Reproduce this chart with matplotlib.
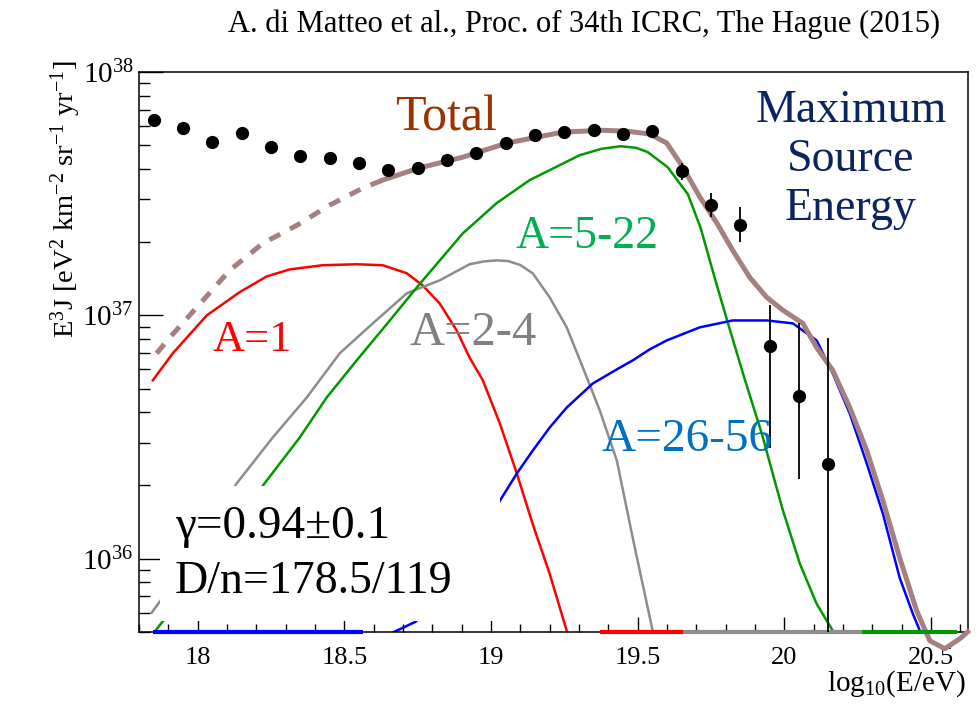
import numpy as np
import matplotlib
matplotlib.use("Agg")
import matplotlib.pyplot as plt
from matplotlib.patches import Rectangle
from matplotlib.ticker import LogLocator, NullFormatter, MultipleLocator

plt.rcParams['font.family'] = ['Liberation Serif', 'DejaVu Serif']
plt.rcParams['mathtext.fontset'] = 'custom'
plt.rcParams['mathtext.rm'] = 'Liberation Serif'
plt.rcParams['mathtext.it'] = 'Liberation Serif:italic'

UNIT = 1e37  # all flux values below are in units of 1e37

# measured spectrum (E^3 J)
data_x = [17.85, 17.95, 18.05, 18.15, 18.25, 18.35, 18.45, 18.55, 18.65, 18.75,
          18.85, 18.95, 19.05, 19.15, 19.25, 19.35, 19.45, 19.55, 19.65, 19.75,
          19.85, 19.95, 20.05, 20.15]
data_y = [6.34, 5.89, 5.15, 5.61, 4.91, 4.51, 4.43, 4.22, 3.96, 4.03,
          4.35, 4.64, 5.10, 5.50, 5.66, 5.77, 5.56, 5.71, 3.92, 2.84,
          2.35, 0.745, 0.468, 0.246]
data_hi = [6.34, 5.89, 5.15, 5.61, 4.91, 4.51, 4.43, 4.22, 3.96, 4.03,
           4.35, 4.64, 5.10, 5.50, 5.66, 5.77, 5.56, 5.71, 4.24, 3.18,
           2.79, 1.10, 0.93, 0.81]
data_lo = [6.34, 5.89, 5.15, 5.61, 4.91, 4.51, 4.43, 4.22, 3.96, 4.03,
           4.35, 4.64, 5.10, 5.50, 5.66, 5.77, 5.56, 5.71, 3.60, 2.54,
           2.00, 0.284, 0.213, 0.001]

# total model (dashed below the fit range)
total_x = [17.860, 17.905, 17.997, 18.109, 18.222, 18.338, 18.450, 18.563, 18.631,
           18.753, 18.904, 19.054, 19.245, 19.380, 19.463, 19.541, 19.599, 19.654, 19.712,
           19.770, 19.824, 19.882, 19.940, 19.995, 20.063, 20.110, 20.165, 20.223,
           20.281, 20.336, 20.393, 20.451, 20.496, 20.547, 20.598, 20.625]
total_y = [0.698, 0.811, 1.079, 1.531, 1.977, 2.344, 2.838, 3.334, 3.597,
           4.027, 4.467, 5.105, 5.662, 5.76, 5.715, 5.560, 5.105, 4.064, 3.062,
           2.393, 1.849, 1.432, 1.186, 1.050, 0.927, 0.738, 0.594, 0.418,
           0.278, 0.173, 0.101, 0.0611, 0.0460, 0.0427, 0.0469, 0.0501]
total_split = 18.64

a1_x = [17.847, 17.915, 18.031, 18.143, 18.235, 18.314, 18.426, 18.542, 18.631, 18.713,
        18.767, 18.825, 18.883, 18.927, 18.972, 19.030, 19.088, 19.142, 19.200, 19.258]
a1_y = [0.541, 0.698, 1.000, 1.245, 1.445, 1.545, 1.607, 1.622, 1.607, 1.489,
        1.327, 1.119, 0.867, 0.671, 0.541, 0.360, 0.224, 0.139, 0.0867, 0.0506]

a2_x = [17.843, 17.973, 18.133, 18.256, 18.372, 18.484, 18.597, 18.713, 18.825, 18.927,
        18.975, 19.019, 19.060, 19.100, 19.142, 19.200, 19.258, 19.313, 19.371, 19.429,
        19.483, 19.551]
a2_y = [0.060, 0.0982, 0.204, 0.315, 0.460, 0.698, 0.927, 1.232, 1.393, 1.622,
        1.665, 1.683, 1.670, 1.610, 1.489, 1.186, 0.893, 0.611, 0.406, 0.253,
        0.122, 0.0506]

a5_x = [17.850, 18.040, 18.228, 18.348, 18.440, 18.542, 18.655, 18.747, 18.904, 19.019,
        19.132, 19.302, 19.375, 19.442, 19.495, 19.534, 19.602, 19.671, 19.715, 19.763,
        19.807, 19.865, 19.923, 19.967, 19.995, 20.053, 20.110, 20.165]
a5_y = [0.0495, 0.0977, 0.204, 0.315, 0.460, 0.653, 0.953, 1.303, 2.173, 2.891,
        3.597, 4.550, 4.830, 4.955, 4.880, 4.688, 4.064, 3.148, 2.280, 1.419,
        0.935, 0.546, 0.327, 0.209, 0.158, 0.0953, 0.0653, 0.0506]

a26_x = [18.661, 18.743, 18.893, 19.030, 19.088, 19.142, 19.200, 19.258, 19.347, 19.429,
         19.483, 19.541, 19.599, 19.712, 19.824, 19.940, 20.029, 20.110, 20.165, 20.223,
         20.281, 20.336, 20.393, 20.438, 20.462]
a26_y = [0.0495, 0.0551, 0.0893, 0.173, 0.224, 0.278, 0.346, 0.418, 0.525, 0.600,
         0.653, 0.725, 0.789, 0.893, 0.953, 0.953, 0.927, 0.789, 0.577, 0.395,
         0.246, 0.153, 0.0836, 0.0594, 0.0506]

# parts of the curves lying below the frame, drawn along the bottom edge
bottom_start = [17.847, 19.371, 19.655, 20.264]
bottom_end = [18.563, 19.655, 20.264, 20.590]
bottom_color = ['#0000ff', '#ff0000', '#8c8c8c', '#009900']

YMIN, YMAX = 5e35, 1e38

fig = plt.figure(figsize=(9.77, 7.05), dpi=100)
ax = fig.add_axes([139 / 977, 1 - 632 / 705, (968 - 139) / 977, (632 - 72) / 705])
ax.set_yscale('log')
ax.set_xlim(17.8, 20.626)
ax.set_ylim(YMIN, YMAX)

def arr(v):
    return np.array(v) * UNIT

tx = np.array(total_x)
ty = arr(total_y)
dash = tx <= total_split
solid = tx >= total_x[8]
ax.plot(tx[dash], ty[dash], color='#a58080', lw=3.6, ls=(0, (2.4, 2.2)), zorder=3)
ax.plot(tx[solid], ty[solid], color='#a58080', lw=3.6, zorder=3, clip_on=False,
        solid_joinstyle='round')

ax.plot(a1_x, arr(a1_y), color='#ff0000', lw=1.8, zorder=2)
ax.plot(a2_x, arr(a2_y), color='#8c8c8c', lw=1.8, zorder=2)
ax.plot(a5_x, arr(a5_y), color='#009900', lw=1.8, zorder=2)
ax.plot(a26_x, arr(a26_y), color='#0000ff', lw=1.8, zorder=2.5)

for x0, x1, c in zip(bottom_start, bottom_end, bottom_color):
    ax.plot([x0, x1], [YMIN, YMIN], color=c, lw=3, clip_on=False, zorder=4,
            solid_capstyle='butt')

dy = arr(data_y)
yerr = [dy - arr(data_lo), arr(data_hi) - dy]
ax.errorbar(data_x, dy, yerr=yerr, fmt='o', color='black', ms=8.5,
            elinewidth=1.3, capsize=0, zorder=6)

# white box behind the fit result text
ax.add_patch(Rectangle((17.87, 10 ** 35.745), 19.03 - 17.87, 10 ** 36.30 - 10 ** 35.745,
                       facecolor='white', edgecolor='none', zorder=5))

# axes styling
for s in ax.spines.values():
    s.set_linewidth(1.1)
ax.yaxis.set_major_locator(LogLocator(base=10, numticks=10))
ax.yaxis.set_minor_locator(LogLocator(base=10, subs=np.arange(2, 10), numticks=20))
ax.yaxis.set_minor_formatter(NullFormatter())
ax.xaxis.set_major_locator(MultipleLocator(0.5))
ax.xaxis.set_minor_locator(MultipleLocator(0.1))
ax.tick_params(axis='y', which='major', direction='in', length=17, width=1.0,
               labelsize=21, pad=4, right=False)
ax.tick_params(axis='y', which='minor', direction='in', length=8, width=1.0, right=False)
ax.tick_params(axis='x', which='major', direction='in', length=11, width=1.0,
               labelsize=19, pad=11, top=False)
ax.tick_params(axis='x', which='minor', direction='in', length=6, width=1.0, top=False)
ax.set_xticks([18, 18.5, 19, 19.5, 20, 20.5])
ax.set_xticklabels(['18', '18.5', '19', '19.5', '20', '20.5'])

def fx(px):
    return px / 977

def fy(py):
    return 1 - py / 705

fig.text(fx(66), fy(60), r'E$^{3}$J [eV$^{2}$ km$^{-2}$ sr$^{-1}$ yr$^{-1}$]',
         rotation=90, ha='center', va='top', fontsize=20.5)
fig.text(fx(966), fy(684), r'log$_{10}$(E/eV)', ha='right', va='center', fontsize=21)

fig.text(fx(940), fy(24), 'A. di Matteo et al., Proc. of 34th ICRC, The Hague (2015)',
         ha='right', va='center', fontsize=22)

fig.text(fx(395), fy(118), 'Total', color='#993300', fontsize=36, ha='left', va='center')
fig.text(fx(851), fy(160), 'Maximum\nSource\nEnergy', color='#0b2460', fontsize=33,
         ha='center', va='center', multialignment='center', linespacing=1.2)
fig.text(fx(515), fy(237), 'A=5-22', color='#00b050', fontsize=33, ha='left', va='center')
fig.text(fx(213), fy(340), 'A=1', color='#ff0000', fontsize=32, ha='left', va='center')
fig.text(fx(410), fy(333), 'A=2-4', color='#808080', fontsize=35, ha='left', va='center')
fig.text(fx(602), fy(440), 'A=26-56', color='#0070c0', fontsize=34, ha='left', va='center',
         zorder=7)
fig.text(fx(175), fy(527), 'γ=0.94±0.1', color='black', fontsize=34, ha='left', va='center')
fig.text(fx(175), fy(582), 'D/n=178.5/119', color='black', fontsize=33, ha='left', va='center')

fig.savefig('out.png', dpi=100)
